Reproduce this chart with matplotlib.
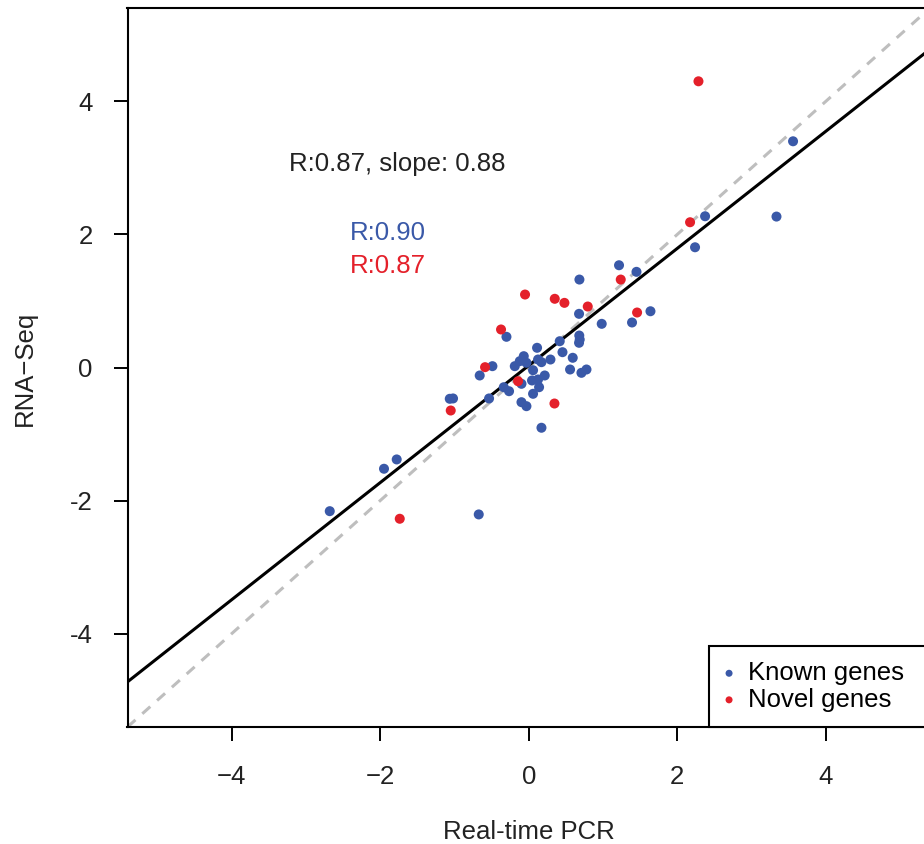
import matplotlib
matplotlib.use("Agg")
import matplotlib.pyplot as plt

plt.rcParams['font.family'] = ['Liberation Sans', 'DejaVu Sans']

# known genes (blue)
known_x = [1.215, 1.450, 0.682, 0.677, 1.638, 1.390, 0.982, -0.300, 0.680, 0.686,
           0.677, 0.417, 0.112, 0.454, 0.592, 0.292, -0.067, -0.121, -0.188, -0.031,
           0.125, 0.171, 0.058, -0.489, -0.660, 0.556, 0.709, 0.777, 0.215, 0.044,
           0.125, 0.139, 0.058, -0.098, -0.265, -0.336, -0.098, -0.031, 0.171, -0.534,
           -1.063, -1.019, 3.557, 3.334, 2.373, 2.238, -1.948, -1.777, -2.678, -0.673]
known_y = [1.536, 1.437, 1.321, 0.806, 0.845, 0.676, 0.656, 0.461, 0.480, 0.420,
           0.371, 0.395, 0.296, 0.230, 0.146, 0.120, 0.170, 0.095, 0.020, 0.071,
           0.120, 0.080, -0.041, 0.020, -0.120, -0.030, -0.080, -0.030, -0.120, -0.195,
           -0.180, -0.296, -0.395, -0.245, -0.356, -0.296, -0.521, -0.581, -0.905, -0.465,
           -0.470, -0.465, 3.398, 2.267, 2.272, 1.806, -1.521, -1.381, -2.158, -2.207]

# novel genes (red)
novel_x = [1.238, -0.050, 0.350, 0.480, 0.794, 1.458, -0.373, -0.588, -0.144, 0.346,
           -1.050, 2.284, 2.171, -1.736]
novel_y = [1.321, 1.096, 1.032, 0.971, 0.916, 0.826, 0.571, 0.005, -0.206, -0.541,
           -0.646, 4.299, 2.182, -2.272]

# fitted line as printed on the chart
fit_slope = 0.88
fit_intercept = 0.03

blue = '#3A59A8'
red = '#E4202A'
fs = 18.5

W, H = 924, 844
fig = plt.figure(figsize=(W / 100, H / 100), dpi=100)
ax = fig.add_axes([127.5 / W, (H - 727) / H, 802.5 / W, 719 / H])

lim = 5.4
ax.set_xlim(-lim, lim)
ax.set_ylim(-lim, lim)

ax.plot([-lim, lim], [-lim, lim], color='#BEBEBE', lw=2.2, dashes=(3.5, 3), zorder=1)
ax.plot([-lim, lim], [fit_intercept - fit_slope * lim, fit_intercept + fit_slope * lim],
        color='black', lw=2.2, zorder=2)

ax.scatter(known_x, known_y, s=52, color=blue, edgecolors='none', zorder=3, label='Known genes')
ax.scatter(novel_x, novel_y, s=52, color=red, edgecolors='none', zorder=3, label='Novel genes')

ax.text(-1.77, 3.06, 'R:0.87, slope: 0.88', fontsize=fs, ha='center', va='center', color='#222222')
ax.text(-1.90, 2.02, 'R:0.90', fontsize=fs, ha='center', va='center', color=blue)
ax.text(-1.90, 1.52, 'R:0.87', fontsize=fs, ha='center', va='center', color=red)

ticks = [-4, -2, 0, 2, 4]
ax.set_xticks(ticks)
ax.set_yticks(ticks)
ax.set_xticklabels(['\u22124', '\u22122', '0', '2', '4'])
ax.set_yticklabels(['-4', '-2', '0', '2', '4'])
ax.tick_params(length=10, width=1.4, pad=15, labelsize=fs, color='black', labelcolor='#222222')
ax.tick_params(axis='x', pad=17)
for sp in ax.spines.values():
    sp.set_linewidth(1.5)

fig.text(529 / W, 1 - 832 / H, 'Real-time PCR', fontsize=fs, ha='center', va='center', color='#222222')
fig.text(25 / W, 1 - 368 / H, 'RNA\u2212Seq', fontsize=fs, ha='center', va='center',
         rotation=90, color='#222222')

# legend box runs off the right edge like the original
leg = ax.legend(loc='lower left', bbox_to_anchor=(708.5 / W, (H - 727) / H, (935 - 708.5) / W, 0.05),
                bbox_transform=fig.transFigure, mode='expand', fontsize=fs, frameon=True,
                fancybox=False, framealpha=1, edgecolor='black', borderaxespad=0, borderpad=0.6,
                labelspacing=0.1, handlelength=0.4, handletextpad=0.55,
                scatterpoints=1, markerscale=0.7)
leg.get_frame().set_linewidth(1.5)

fig.savefig('out.png', dpi=100)
